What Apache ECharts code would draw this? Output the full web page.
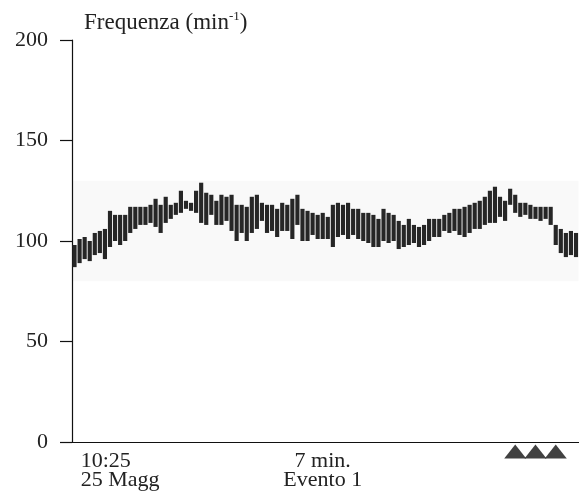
<!DOCTYPE html>
<html>
<head>
<meta charset="utf-8">
<script src="https://cdn.jsdelivr.net/npm/echarts@6/dist/echarts.min.js"></script>
<style>
  html, body { margin: 0; padding: 0; background: #fff; }
  #chart { width: 579px; height: 496px; }
</style>
</head>
<body>
<div id="chart"></div>
<script>
// range of each beat-rate bar (min / max), read left to right
const lows = [
  87, 89, 91, 90, 93, 94, 91, 97, 100, 98, 100, 104, 106, 108,
  108, 109, 107, 104, 109, 111, 113, 114, 116, 115, 114, 109, 108, 113, 108,
  108, 110, 105, 100, 104, 100, 104, 106, 110, 104, 105, 102, 105, 105,
  101, 108, 100, 100, 103, 101, 101, 101, 97, 102, 103, 101, 103,
  101, 100, 99, 97, 97, 100, 99, 100, 96, 97, 98, 99, 97, 98, 100,
  102, 102, 105, 104, 105, 103, 102, 104, 106, 106, 108, 109, 109, 112, 110,
  118, 114, 112, 113, 111, 111, 110, 111, 108, 98, 94, 92, 93, 92
]
const highs = [
  98, 101, 102, 100, 104, 105, 106, 115, 113, 113, 113, 117, 117, 117,
  117, 118, 121, 118, 122, 118, 119, 125, 120, 119, 125, 129, 124, 123, 120,
  123, 122, 123, 118, 118, 117, 122, 123, 119, 118, 118, 116, 119, 118,
  121, 123, 116, 115, 114, 113, 114, 112, 118, 119, 118, 119, 116,
  116, 114, 114, 113, 111, 116, 114, 113, 110, 108, 111, 108, 107, 108, 111,
  111, 111, 113, 114, 116, 116, 117, 118, 119, 120, 122, 125, 127, 122, 120,
  126, 123, 119, 119, 118, 117, 117, 117, 117, 108, 106, 104, 105, 104
]
// normal band
const bandLow = 80
const bandHigh = 130
// x labels at category positions
const labelIdx = [9, 49]
const labelText = ['10:25\n25 Magg', '7 min.\nEvento 1']
// event markers under the axis
const eventIdx = [87, 91, 95]
const eventLevel = -4.7
const yTicks = [0, 50, 100, 150, 200]

const cats = lows.map((v, i) => String(i))
const spans = highs.map((h, i) => h - lows[i])

const font = 'Liberation Serif'
const chart = echarts.init(document.getElementById('chart'))

const option = {
  animation: false,
  backgroundColor: '#fff',
  title: {
    text: '{a|Frequenza (min}{s|-1}{a|)}',
    left: 79,
    top: 5,
    textStyle: {
      fontFamily: font,
      fontWeight: 'normal',
      fontSize: 23,
      color: '#222',
      rich: {
        a: { fontFamily: font, fontSize: 23, fontWeight: 'normal', color: '#222', lineHeight: 26 },
        s: { fontFamily: font, fontSize: 13, fontWeight: 'normal', color: '#222', verticalAlign: 'top', lineHeight: 26, padding: [0, 0, 8, 0] }
      }
    }
  },
  grid: { left: 72, right: 0, top: 40, bottom: 54 },
  xAxis: {
    type: 'category',
    data: cats,
    boundaryGap: true,
    axisLine: { lineStyle: { color: '#111', width: 1.2 } },
    axisTick: { show: false },
    splitLine: { show: false },
    axisLabel: {
      interval: 0,
      margin: 10,
      fontFamily: font,
      fontSize: 22,
      color: '#222',
      lineHeight: 19,
      formatter: function (val, idx) {
        let k = labelIdx.indexOf(idx)
        if (k < 0) return ''
        let parts = labelText[k].split('\n')
        let st = k === 0 ? 'l' : 'c'
        return parts.map(p => '{' + st + '|' + p + '}').join('\n')
      },
      rich: {
        l: { fontFamily: font, fontSize: 22, color: '#222', align: 'left', lineHeight: 19 },
        c: { fontFamily: font, fontSize: 22, color: '#222', align: 'center', lineHeight: 19 }
      }
    }
  },
  yAxis: {
    type: 'value',
    min: 0,
    max: 200,
    interval: 50,
    axisLine: { show: true, lineStyle: { color: '#111', width: 1.2 } },
    axisTick: { show: true, length: 12, lineStyle: { color: '#111', width: 1.2 } },
    splitLine: { show: false },
    axisLabel: {
      margin: 24,
      fontFamily: font,
      fontSize: 22,
      color: '#222',
      formatter: v => (yTicks.indexOf(v) >= 0 ? String(v) : '')
    }
  },
  series: [
    {
      type: 'bar',
      stack: 'rate',
      data: lows,
      barWidth: '82%',
      z: -1,
      itemStyle: { color: 'rgba(0,0,0,0)' },
      silent: true,
      markArea: {
        silent: true,
        z: -1,
        itemStyle: { color: '#f9f9f9' },
        data: [[{ yAxis: bandLow }, { yAxis: bandHigh }]]
      }
    },
    {
      type: 'bar',
      stack: 'rate',
      data: spans,
      barWidth: '82%',
      itemStyle: { color: '#262626' }
    },
    {
      type: 'scatter',
      clip: false,
      symbol: 'triangle',
      symbolSize: [22, 14],
      itemStyle: { color: '#111' },
      data: eventIdx.map(i => [String(i), eventLevel])
    }
  ]
}
chart.setOption(option)
</script>
</body>
</html>
